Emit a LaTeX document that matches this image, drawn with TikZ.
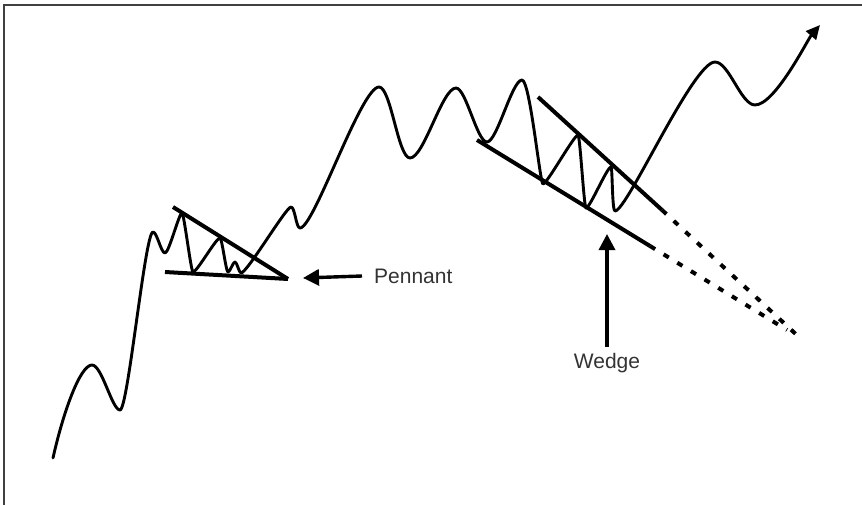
\documentclass[tikz,border=0pt]{standalone}
\usepackage{fontspec}
\setmainfont{Liberation Sans}
\usetikzlibrary{arrows.meta}
\tikzset{
  price/.style={line width=2.9pt, line join=round, line cap=round},
  trendline/.style={line width=4pt},
  projection/.style={line width=4pt, dash pattern=on 6pt off 10pt},
  pointer/.style={line width=3.4pt, -{Triangle[length=16pt,width=16pt]}},
  patname/.style={font=\fontsize{21}{25}\selectfont, text=black!80, inner sep=0pt},
  frame/.style={line width=2pt, draw=black!75},
}
\begin{document}
\begin{tikzpicture}[x=1pt,y=-1pt]
  \useasboundingbox (0,0) rectangle (862,505);
  \draw[frame] (4,505) -- (4,5) -- (862,5);

  % price path
  \draw[price, -{Triangle[length=14pt,width=13pt]}] (53,458)
    .. controls +(10,-45) and +(-12,0) .. (92,365)
    .. controls +(10,0) and +(-8,0) .. (120,410)
    .. controls +(8,0) and +(-8,0) .. (153,232)
    .. controls +(4,0) and +(-4,0) .. (165,253)
    .. controls +(4,0) and +(-3,0) .. (182,213)
    .. controls +(2,0) and +(-2,0) .. (193,272)
    .. controls +(4,0) and +(-4,0) .. (220,238)
    .. controls +(2,0) and +(-2,0) .. (228,272)
    .. controls +(2,0) and +(-2,0) .. (235,262)
    .. controls +(2,0) and +(-2,0) .. (241,273)
    .. controls +(6,0) and +(-5,0) .. (291,207)
    .. controls +(4,0) and +(-4,0) .. (300,228)
    .. controls +(14,0) and +(-18,0) .. (379,87)
    .. controls +(12,0) and +(-12,0) .. (410,158)
    .. controls +(14,0) and +(-14,0) .. (456,88)
    .. controls +(10,0) and +(-10,0) .. (487,142)
    .. controls +(10,0) and +(-10,0) .. (522,80)
    .. controls +(8,0) and +(-3,0) .. (543,184)
    .. controls +(4,0) and +(-4,0) .. (578,135)
    .. controls +(2,0) and +(-2,0) .. (586,208)
    .. controls +(4,0) and +(-4,0) .. (611,167)
    .. controls +(1.5,0) and +(-3,0) .. (615,211)
    .. controls +(12,0) and +(-22,0) .. (715,62)
    .. controls +(14,0) and +(-14,0) .. (755,105)
    .. controls +(20,0) and +(-12,14) .. (820,25);

  % pennant
  \coordinate (pennantapex) at (288,279);
  \draw[trendline] (173,207) -- (pennantapex);
  \draw[trendline] (165,272) -- (pennantapex);

  % wedge
  \coordinate (wedgetopA) at (538,97);
  \coordinate (wedgetopB) at (662,210);
  \coordinate (wedgetopC) at (800,338);
  \coordinate (wedgelowA) at (477,140);
  \coordinate (wedgelowB) at (650,246);
  \coordinate (wedgelowC) at (787,330);
  \draw[trendline] (wedgetopA) -- (wedgetopB);
  \draw[trendline] (wedgelowA) -- (wedgelowB);
  \draw[projection] (wedgetopB) -- (wedgetopC);
  \draw[projection] (wedgelowB) -- (wedgelowC);

  % labels
  \node[patname, anchor=west] (pennant) at (374,276) {Pennant};
  \coordinate (pennanttip) at (303,278);
  \draw[pointer] ([xshift=-12pt]pennant.west) -- (pennanttip);

  \node[patname, anchor=base] (wedge) at (607,368) {Wedge};
  \coordinate (wedgetip) at (607,234);
  \draw[pointer] ([yshift=6pt]wedge.north) -- (wedgetip);
\end{tikzpicture}
\end{document}
